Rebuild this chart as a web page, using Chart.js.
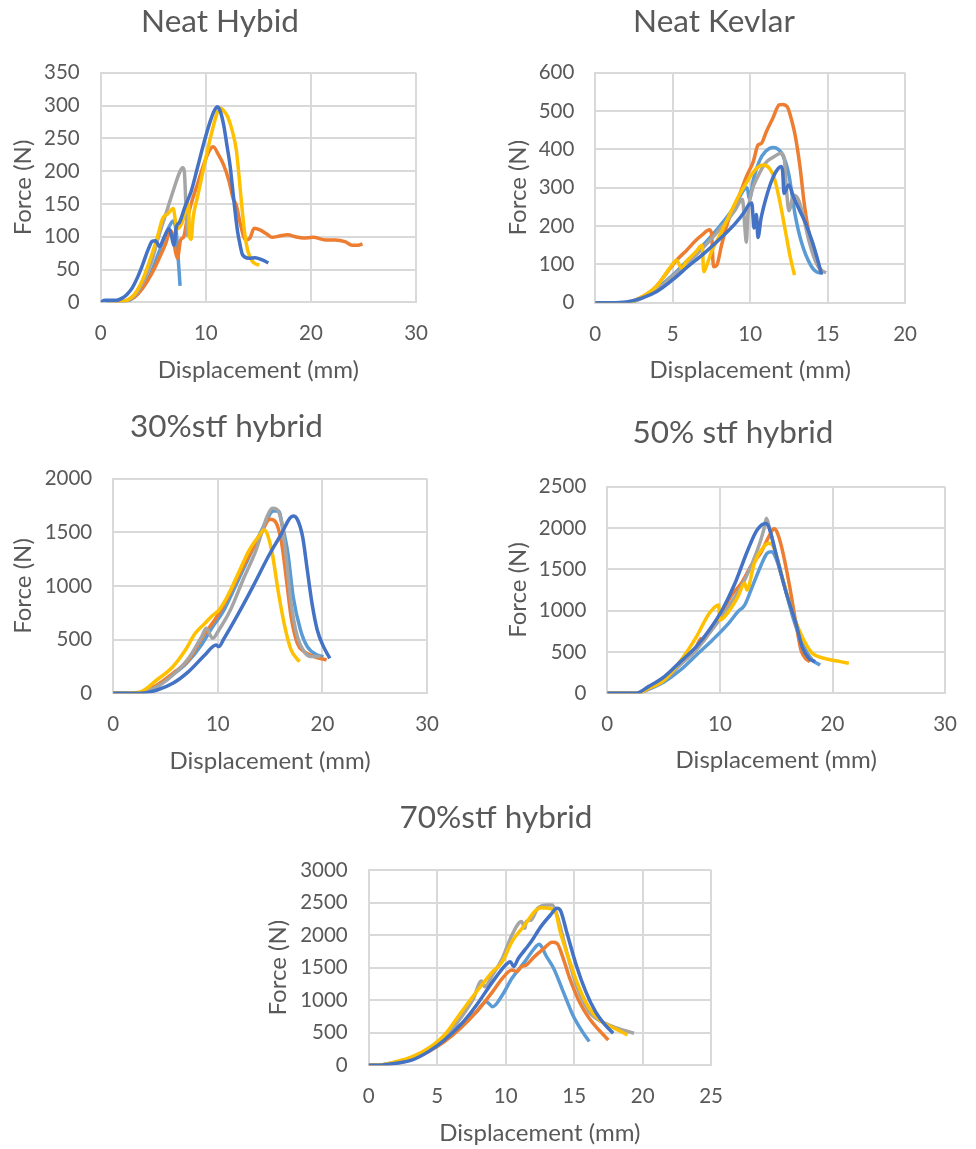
<!DOCTYPE html>
<html>
<head>
<meta charset="utf-8">
<script src="https://cdn.jsdelivr.net/npm/chart.js@4.4.0/dist/chart.umd.min.js"></script>
<style>
  html, body { margin: 0; padding: 0; background: #fff; overflow: hidden; }
  body { width: 976px; height: 1149px; position: relative; }
  canvas { position: absolute; }
</style>
</head>
<body>
<canvas id="neatHybrid"></canvas>
<canvas id="neatKevlar"></canvas>
<canvas id="stf30"></canvas>
<canvas id="stf50"></canvas>
<canvas id="stf70"></canvas>
<script>
// force-displacement curves, five specimens per panel, points are [displacement mm, force N]

// Neat hybrid
const neatHybrid1 = [[0.4,0],[1.5,0],[2.5,2],[3.2,8],[4,22],[4.8,45],[5.5,75],[6.1,100],[6.6,118],[6.9,124],[7.2,105],[7.4,60],[7.55,25]];
const neatHybrid2 = [[0.6,0],[1.5,0],[2.5,3],[3.2,8],[4,22],[4.8,42],[5.5,65],[6.2,90],[6.6,110],[6.9,100],[7.1,78],[7.3,67],[7.6,95],[7.9,100],[8.2,125],[8.6,150],[9.2,180],[9.8,210],[10.3,230],[10.7,237],[11.2,225],[11.7,209],[12.2,185],[12.6,158],[12.9,148],[13.3,118],[13.8,95],[14.2,98],[14.6,113],[15.2,110],[15.8,104],[16.3,99],[17,101],[17.8,103],[18.5,100],[19.3,98],[20.2,99],[21.4,95],[22.3,95],[23.3,92],[23.9,87],[24.5,87],[24.9,89]];
const neatHybrid3 = [[0.5,0],[1.5,0],[2.5,3],[3.2,10],[4,30],[4.8,60],[5.5,100],[6,125],[6.4,145],[7,175],[7.5,198],[7.8,205],[7.95,200],[8.1,150],[8.25,100]];
const neatHybrid4 = [[0.8,0],[1.8,0],[2.5,3],[3.2,12],[4,35],[4.8,70],[5.4,100],[5.9,128],[6.4,135],[6.9,143],[7.1,125],[7.3,112],[7.7,120],[8.1,140],[8.35,150],[8.45,100],[8.6,96],[8.8,130],[9.2,160],[9.6,190],[10,220],[10.5,255],[11,285],[11.3,296],[11.7,292],[12.1,282],[12.5,262],[12.9,232],[13.2,185],[13.4,150],[13.7,105],[14,78],[14.4,63],[14.8,58],[15.1,57]];
const neatHybrid5 = [[0,0],[0.4,3],[1.5,3],[2,6],[2.5,12],[3,22],[3.5,38],[4,58],[4.5,80],[4.9,93],[5.2,94],[5.6,85],[6,98],[6.5,112],[6.75,100],[6.95,87],[7.2,115],[7.5,122],[8,145],[8.6,169],[9.2,205],[9.85,245],[10.4,275],[10.8,292],[11.1,298],[11.4,290],[11.7,270],[12,240],[12.3,209],[12.5,180],[12.75,143],[13,110],[13.2,92],[13.5,72],[14.1,67],[14.7,68],[15.3,65],[15.95,60]];

// Neat Kevlar
const neatKevlar1 = [[0,0],[2,0],[3,12],[4,38],[5,72],[6,112],[7,152],[8,198],[9,252],[9.6,295],[9.8,300],[9.95,270],[10.2,320],[10.6,370],[11,395],[11.5,405],[12.1,385],[12.5,333],[12.9,229],[13.3,159],[13.9,98],[14.3,80],[14.7,77]];
const neatKevlar2 = [[0,0],[1.9,0],[2.8,11],[3.8,37],[4.6,77],[5.25,111],[5.9,137],[6.5,163],[6.9,177],[7.36,190],[7.5,181],[7.63,94],[7.84,98],[8.15,150],[8.56,211],[9.18,268],[9.8,333],[10.2,368],[10.5,411],[10.73,416],[11.04,446],[11.46,481],[11.87,516],[12.07,517],[12.39,511],[12.7,472],[12.9,437],[13.2,359],[13.5,255],[13.9,159],[14.25,107],[14.6,80]];
const neatKevlar3 = [[0,0],[2,0],[3,12],[4,35],[5,70],[6,105],[7,145],[8,190],[9,240],[9.5,270],[9.65,200],[9.75,158],[9.85,230],[10.1,290],[10.5,330],[11,365],[11.5,380],[12,390],[12.2,375],[12.35,290],[12.5,240],[12.8,280],[13.1,270],[13.4,230],[13.8,160],[14.2,110],[14.6,85],[14.9,78]];
const neatKevlar4 = [[0,0],[2,0],[3,15],[4,45],[4.8,90],[5.25,111],[5.56,90],[5.87,107],[6.5,133],[6.9,150],[7.0,81],[7.2,98],[7.5,133],[7.94,168],[8.56,220],[9.18,272],[9.8,316],[10.4,350],[10.83,359],[11.25,350],[11.56,324],[11.87,272],[12.28,185],[12.6,116],[12.86,72]];
const neatKevlar5 = [[0,0],[1,0],[2,2],[3,12],[4,30],[5,60],[6,95],[7,128],[8,165],[9,205],[9.6,235],[9.9,255],[10.1,260],[10.25,195],[10.4,230],[10.5,170],[10.7,220],[11,270],[11.4,320],[11.8,350],[12.0,355],[12.1,340],[12.18,285],[12.49,307],[12.8,275],[13.2,240],[13.6,205],[14,160],[14.3,120],[14.6,75]];

// 30% STF hybrid
const stf30_1 = [[0,0],[2.6,0],[4,60],[5.5,160],[7,280],[8.5,460],[9.5,620],[10.5,760],[11.5,960],[12.5,1170],[13.5,1380],[14.5,1580],[15.3,1700],[15.8,1700],[16.2,1550],[16.7,1300],[17.2,900],[17.9,590],[18.55,435],[19.5,357],[20.1,342]];
const stf30_2 = [[0,0],[2.6,5],[4.2,78],[5.7,186],[7.2,311],[8.76,559],[9.7,683],[10.9,885],[12.4,1180],[14,1460],[15,1621],[15.5,1600],[16.1,1398],[16.56,1056],[17,714],[17.6,466],[18.25,388],[19.2,342],[20.4,311]];
const stf30_3 = [[0,0],[2.6,5],[4.2,62],[5.7,171],[7.2,326],[8.45,528],[8.9,606],[9.5,512],[10.1,590],[11.2,776],[12.4,1056],[13.65,1335],[14.7,1646],[15.2,1724],[15.65,1714],[16.1,1584],[16.56,1242],[17,838],[17.6,528],[18.25,388],[18.9,342],[19.8,342]];
const stf30_4 = [[0,0],[2.5,10],[4.16,124],[5.7,248],[6.9,404],[7.84,559],[8.76,652],[9.37,714],[10.1,776],[10.9,900],[12.1,1149],[13,1335],[14,1475],[14.4,1522],[14.7,1491],[15.2,1304],[15.8,932],[16.4,621],[17,404],[17.8,295]];
const stf30_5 = [[0,0],[2.6,0],[4.2,31],[5.7,93],[7.2,202],[8.76,357],[9.83,450],[10.1,435],[10.6,512],[11.8,714],[13.35,994],[14.9,1289],[16.1,1491],[16.87,1630],[17.2,1652],[17.6,1621],[18.1,1460],[18.55,1149],[19,838],[19.5,590],[20.1,435],[20.7,326]];

// 50% STF hybrid
const stf50_1 = [[0,0],[2.6,0],[3.65,48],[5.07,141],[6.5,282],[7.92,464],[9.34,645],[10.77,847],[11.6,988],[12.2,1068],[12.76,1250],[13.6,1532],[14.19,1694],[14.6,1714],[15.04,1613],[15.75,1290],[16.47,927],[17.3,605],[18.2,403],[18.9,343]];
const stf50_2 = [[0,0],[2.6,0],[3.65,60],[5.07,170],[6.5,360],[7.9,560],[8.3,660],[8.5,630],[9.06,760],[10.2,980],[11.0,1180],[11.9,1331],[12.8,1550],[13.6,1694],[14.5,1935],[14.8,1990],[15.04,1960],[15.47,1774],[16.2,1290],[16.75,847],[17.2,524],[17.6,423],[18.0,383]];
const stf50_3 = [[0,0],[2.6,0],[3.65,55],[5.07,160],[6.5,350],[7.9,524],[9.06,726],[10.77,1048],[12.2,1371],[13.33,1734],[13.9,1980],[14.13,2117],[14.4,2000],[15.04,1650],[15.9,1220],[16.75,850],[17.3,570],[17.9,430],[18.2,410]];
const stf50_4 = [[0,0],[2.6,0],[3.65,60],[5.07,161],[6.78,444],[7.92,685],[9.06,968],[9.9,1068],[9.97,887],[10.77,988],[11.6,1169],[12.2,1331],[12.4,1250],[13.05,1573],[13.9,1774],[14.33,1815],[14.76,1774],[15.6,1371],[16.47,968],[17.3,685],[18.2,484],[18.75,444],[19.9,403],[20.7,383],[21.45,363]];
const stf50_5 = [[0,0],[2.5,0],[3.65,81],[5.07,202],[6.5,383],[7.9,565],[9.06,766],[10.2,1008],[11.34,1331],[12.48,1734],[13.3,1976],[14.05,2056],[14.33,2016],[15.04,1653],[15.9,1210],[16.75,847],[17.3,565],[17.9,423],[18.46,383]];

// 70% STF hybrid
const stf70_1 = [[0,0],[1,10],[2,46],[3.2,120],[4.36,236],[5.53,415],[6.7,620],[7.88,824],[8.58,978],[9.05,901],[9.76,1080],[10.46,1336],[11.4,1592],[12.1,1797],[12.45,1859],[12.69,1797],[12.92,1695],[13.5,1490],[14.2,1132],[14.9,773],[15.6,517],[16.1,364]];
const stf70_2 = [[0,0],[1,8],[2,31],[3.2,100],[4.36,210],[5.53,364],[6.7,568],[7.88,824],[9.05,1132],[9.76,1336],[10.46,1464],[10.8,1439],[11.16,1516],[11.5,1541],[12.1,1669],[12.8,1797],[13.4,1889],[13.74,1874],[14.2,1644],[14.68,1336],[15.38,978],[16.1,722],[16.8,543],[17.5,389]];
const stf70_3 = [[0,0],[1,8],[2,31],[3.19,108],[4.36,236],[5.53,415],[6.7,722],[7.65,1029],[8.23,1295],[8.47,1208],[9.05,1388],[9.76,1644],[10.46,2002],[11.16,2207],[11.4,2104],[11.5,2207],[11.87,2232],[12.34,2412],[13.04,2463],[13.4,2463],[13.74,2309],[14.45,1746],[15.15,1234],[16.1,824],[17,671],[18.2,568],[19.37,492]];
const stf70_4 = [[0,0],[1,10],[2,56],[3.19,133],[4.36,261],[5.53,466],[6.7,799],[7.88,1132],[9.05,1439],[9.76,1592],[10.46,1900],[11.4,2156],[12.1,2360],[12.57,2422],[13.16,2412],[13.63,2360],[13.98,2053],[14.68,1592],[15.38,1183],[16.1,876],[17,671],[17.96,568],[18.9,466]];
const stf70_5 = [[0,0],[1,6],[2,31],[3.19,82],[4.36,210],[5.53,389],[6.7,620],[7.88,927],[9.05,1285],[10,1541],[10.35,1592],[10.58,1516],[10.93,1644],[11.4,1772],[11.87,1900],[12.57,2130],[13.27,2309],[13.74,2412],[13.98,2386],[14.45,2053],[15.15,1541],[15.85,1132],[16.56,824],[17.26,620],[17.85,492]];

const panelTitles = ['Neat Hybid', 'Neat Kevlar', '30%stf hybrid', '50% stf hybrid', '70%stf hybrid'];
const xMax  = [30, 20, 30, 30, 25];
const xStep = [10, 5, 10, 10, 5];
const yMax  = [350, 600, 2000, 2500, 3000];
const yStep = [50, 100, 500, 500, 500];

const panelData = [
  [neatHybrid1, neatHybrid2, neatHybrid3, neatHybrid4, neatHybrid5],
  [neatKevlar1, neatKevlar2, neatKevlar3, neatKevlar4, neatKevlar5],
  [stf30_1, stf30_2, stf30_3, stf30_4, stf30_5],
  [stf50_1, stf50_2, stf50_3, stf50_4, stf50_5],
  [stf70_1, stf70_2, stf70_3, stf70_4, stf70_5]
];

// office palette, last specimen drawn on top
const specimenColors = ['#5B9BD5', '#ED7D31', '#A5A5A5', '#FFC000', '#4472C4'];

const FONT = 'Lato, "Open Sans", sans-serif';
const INK = '#595959';
const GRID = '#d9d9d9';
const TITLE_SIZE = 31.5;
const AXIS_TITLE_SIZE = 24;
const TICK_SIZE = 20.5;

// where each panel sits on the page: y-title centre, plot box [l,t,r,b], title centre, x-title centre
const boxes = [
  { id: 'neatHybrid', yTitleX: 23,  top: 0,   plot: [100.7, 72.7, 428.7, 302.3],  titleX: 220, titleY: 22,  xTitleY: 370 },
  { id: 'neatKevlar', yTitleX: 518, top: 0,   plot: [595.3, 72.7, 917.7, 302.7],  titleX: 714, titleY: 22,  xTitleY: 370 },
  { id: 'stf30',      yTitleX: 22.5, top: 390, plot: [112.7, 478.7, 439.3, 693.3], titleX: 226, titleY: 427, xTitleY: 761 },
  { id: 'stf50',      yTitleX: 518, top: 390, plot: [607.3, 486.7, 958.3, 693.3], titleX: 733, titleY: 433, xTitleY: 760 },
  { id: 'stf70',      yTitleX: 278, top: 780, plot: [368.7, 870, 724, 1065.3],    titleX: 496, titleY: 818, xTitleY: 1133 }
];

const panelTitle = {
  id: 'panelTitle',
  afterDraw(chart, args, opts) {
    const ctx = chart.ctx;
    ctx.save();
    ctx.font = opts.size + 'px ' + FONT;
    ctx.fillStyle = INK;
    ctx.textAlign = 'center';
    ctx.textBaseline = 'middle';
    ctx.fillText(opts.text, opts.x, opts.y);
    ctx.restore();
  }
};

function drawPanel(i) {
  const b = boxes[i];
  const [pl, pt, pr, pb] = b.plot;
  const left = b.yTitleX - AXIS_TITLE_SIZE / 2;
  const w = Math.round(pr + 18 - left);
  const h = Math.round(b.xTitleY + 18 - b.top);
  const cv = document.getElementById(b.id);
  cv.width = w;
  cv.height = h;
  cv.style.left = left + 'px';
  cv.style.top = b.top + 'px';

  const tickFont = { family: FONT, size: TICK_SIZE };

  new Chart(cv, {
    type: 'scatter',
    data: {
      datasets: panelData[i].map((pts, k) => ({
        label: 'Specimen ' + (k + 1),
        data: pts.map(p => ({ x: p[0], y: p[1] })),
        showLine: true,
        borderColor: specimenColors[k],
        backgroundColor: specimenColors[k],
        borderWidth: 3.5,
        pointRadius: 0,
        cubicInterpolationMode: 'monotone',
        order: 5 - k
      }))
    },
    options: {
      responsive: false,
      animation: false,
      events: [],
      layout: { padding: { left: 0, top: pt - b.top, right: w - (pr - left), bottom: 0 } },
      plugins: {
        legend: { display: false },
        tooltip: { enabled: false },
        panelTitle: { text: panelTitles[i], x: b.titleX - left, y: b.titleY - b.top, size: TITLE_SIZE }
      },
      scales: {
        x: {
          type: 'linear',
          min: 0, max: xMax[i],
          ticks: { stepSize: xStep[i], color: INK, font: tickFont, padding: 19, maxRotation: 0, format: { useGrouping: false } },
          grid: { color: GRID, lineWidth: 2, drawTicks: false },
          border: { color: GRID, width: 2 },
          title: { display: true, text: 'Displacement (mm)', color: INK, font: { family: FONT, size: AXIS_TITLE_SIZE, lineHeight: 1.2 }, padding: { top: 0, bottom: 3.6 } },
          afterFit: s => { s.height = h - (pb - b.top); }
        },
        y: {
          type: 'linear',
          min: 0, max: yMax[i],
          ticks: { stepSize: yStep[i], color: INK, font: tickFont, padding: 21, format: { useGrouping: false } },
          grid: { color: GRID, lineWidth: 2, drawTicks: false },
          border: { color: GRID, width: 2 },
          title: { display: true, text: 'Force (N)', color: INK, font: { family: FONT, size: AXIS_TITLE_SIZE, lineHeight: 1 }, padding: 0 },
          afterFit: s => { s.width = pl - left; }
        }
      }
    },
    plugins: [panelTitle]
  });
}

for (let i = 0; i < boxes.length; i++) drawPanel(i);
</script>
</body>
</html>
